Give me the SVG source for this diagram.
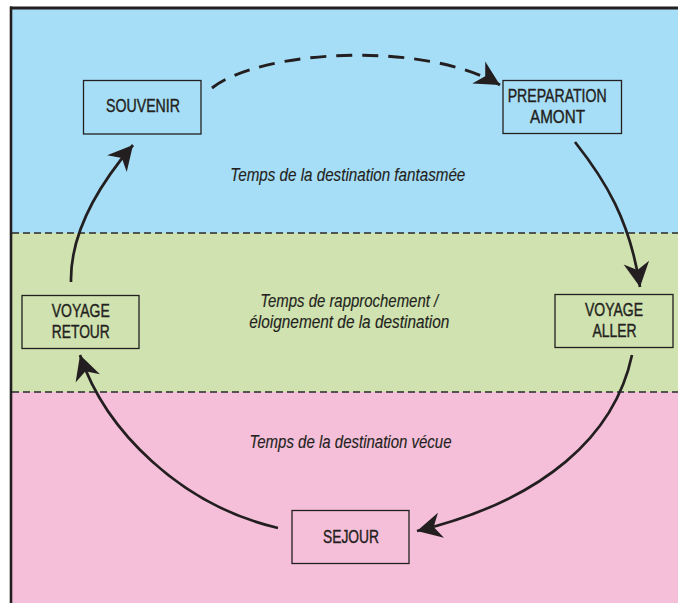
<svg xmlns="http://www.w3.org/2000/svg" width="678" height="603" viewBox="0 0 678 603">
  <style>
    .box { fill: none; stroke: #231f20; stroke-width: 1.3; }
    .lbl { font-family: "Liberation Sans", Arial, sans-serif; font-size: 17.5px; fill: #231f20; stroke: #231f20; stroke-width: 0.4; text-anchor: middle; }
    .it { font-family: "Liberation Sans", Arial, sans-serif; font-size: 18px; font-style: italic; fill: #231f20; stroke: #231f20; stroke-width: 0.15; text-anchor: middle; }
    .sep { stroke: #2a2a2a; stroke-width: 1.3; stroke-dasharray: 7 4; fill: none; }
    .arc { fill: none; stroke: #231f20; stroke-width: 2.7; }
    .dash { stroke-dasharray: 16 10; stroke-width: 2.9; }
  </style>
  <defs>
    <marker id="head" markerUnits="userSpaceOnUse" orient="auto" markerWidth="30" markerHeight="30" viewBox="-26 -14 28 28" refX="0" refY="0">
      <path d="M0,0 L-23,-12 L-16,0 L-23,12 Z" fill="#231f20"/>
    </marker>
  </defs>

  <!-- background bands -->
  <g id="bands">
    <rect x="11" y="8" width="667" height="225" fill="#a7def7"/>
    <rect x="11" y="233" width="667" height="159" fill="#cfe2af"/>
    <rect x="11" y="392" width="667" height="211" fill="#f5bfd9"/>
    <line class="sep" x1="12" y1="233" x2="678" y2="233"/>
    <line class="sep" x1="12" y1="392" x2="678" y2="392"/>
    <line x1="10" y1="8" x2="678" y2="8" stroke="#231f20" stroke-width="3"/>
    <line x1="11" y1="6.5" x2="11" y2="603" stroke="#231f20" stroke-width="2.6"/>
  </g>

  <g id="zone-labels">
    <text class="it" x="347.8" y="180.7" textLength="235" lengthAdjust="spacingAndGlyphs">Temps de la destination fantasmée</text>
    <text class="it" x="349.2" y="306.7" textLength="178" lengthAdjust="spacingAndGlyphs">Temps de rapprochement /</text>
    <text class="it" x="349.3" y="328.3" textLength="200" lengthAdjust="spacingAndGlyphs">éloignement de la destination</text>
    <text class="it" x="350.5" y="448.3" textLength="202" lengthAdjust="spacingAndGlyphs">Temps de la destination vécue</text>
  </g>

  <g id="connectors">
    <path class="arc dash" d="M212,88 C262,49 425,41 500,85" marker-end="url(#head)"/>
    <path class="arc" d="M575,142 C605,180 630,220 640,287" marker-end="url(#head)"/>
    <path class="arc" d="M632,355 C615,435 545,500 417,531" marker-end="url(#head)"/>
    <path class="arc" d="M278,528 C180,505 105,430 80,355" marker-end="url(#head)"/>
    <path class="arc" d="M71,282 C70,230 103,180 133,145" marker-end="url(#head)"/>
  </g>

  <g id="souvenir">
    <rect class="box" x="83.5" y="80.5" width="117.5" height="53.5"/>
    <text class="lbl" x="143" y="112.3" textLength="74" lengthAdjust="spacingAndGlyphs">SOUVENIR</text>
  </g>
  <g id="preparation-amont">
    <rect class="box" x="503" y="80.5" width="118.5" height="53"/>
    <text class="lbl" x="557.2" y="101.7" textLength="99" lengthAdjust="spacingAndGlyphs">PREPARATION</text>
    <text class="lbl" x="557.5" y="123.3" textLength="55" lengthAdjust="spacingAndGlyphs">AMONT</text>
  </g>
  <g id="voyage-aller">
    <rect class="box" x="555" y="294.5" width="118" height="53"/>
    <text class="lbl" x="614" y="315.7" textLength="58" lengthAdjust="spacingAndGlyphs">VOYAGE</text>
    <text class="lbl" x="614.5" y="337.3" textLength="44" lengthAdjust="spacingAndGlyphs">ALLER</text>
  </g>
  <g id="sejour">
    <rect class="box" x="292" y="510.5" width="117" height="53"/>
    <text class="lbl" x="351" y="542.7" textLength="56" lengthAdjust="spacingAndGlyphs">SEJOUR</text>
  </g>
  <g id="voyage-retour">
    <rect class="box" x="22" y="295.5" width="117" height="53"/>
    <text class="lbl" x="80.8" y="316.7" textLength="58" lengthAdjust="spacingAndGlyphs">VOYAGE</text>
    <text class="lbl" x="80.8" y="338.3" textLength="58" lengthAdjust="spacingAndGlyphs">RETOUR</text>
  </g>
</svg>
